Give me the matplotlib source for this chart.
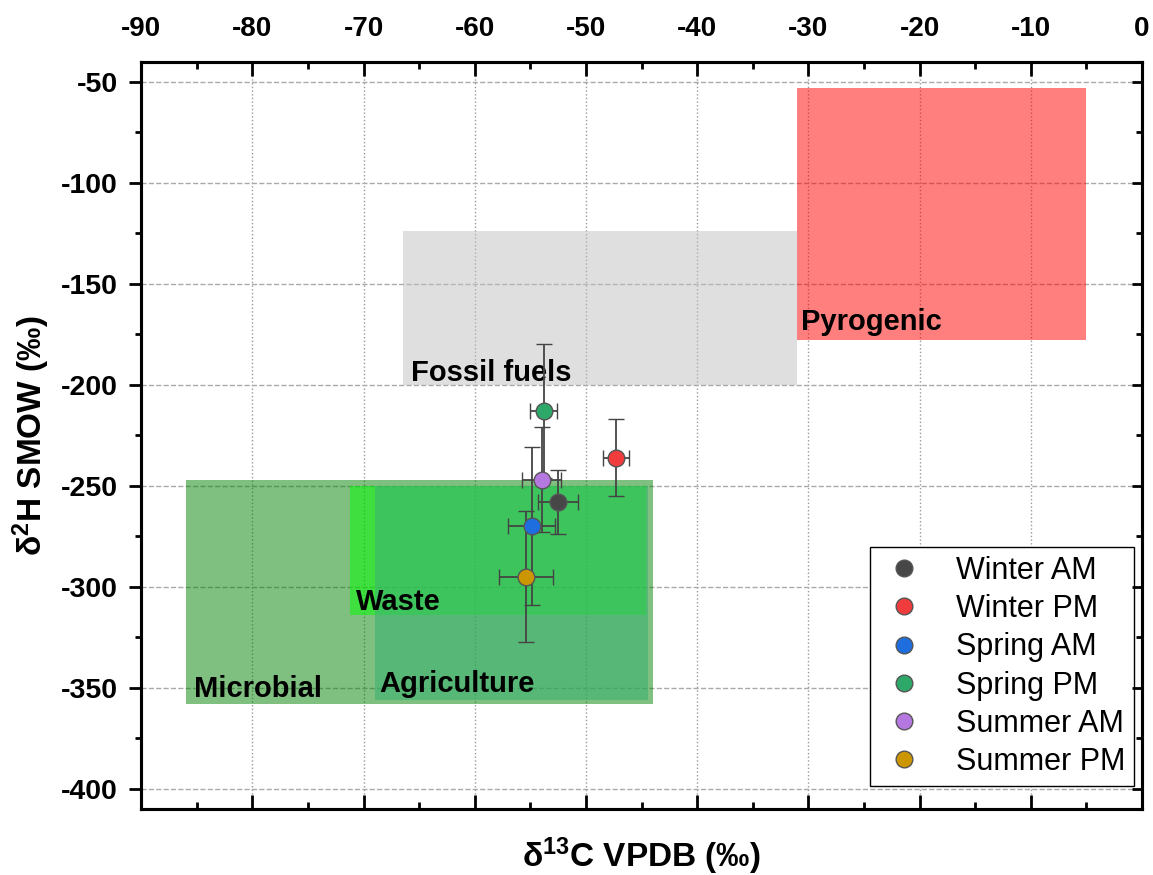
import numpy as np
import matplotlib
matplotlib.use('Agg')
import matplotlib.pyplot as plt
from matplotlib.ticker import MultipleLocator
from matplotlib.lines import Line2D

# Fonts: Arial-metric family, with a fallback for special signs.
plt.rcParams['font.family'] = ['Liberation Sans', 'DejaVu Sans']
plt.rcParams['mathtext.fontset'] = 'custom'
plt.rcParams['mathtext.rm'] = 'Liberation Sans'
plt.rcParams['mathtext.bf'] = 'Liberation Sans:bold'
plt.rcParams['mathtext.default'] = 'bf'
plt.rcParams['axes.unicode_minus'] = False

######
# DATA
######
# Sample means and errors per season / time of day.
seasons = ['Winter AM', 'Winter PM', 'Spring AM', 'Spring PM', 'Summer AM', 'Summer PM']
d13c = [-52.5, -47.3, -54.9, -53.8, -54.0, -55.4]
d2h = [-258, -236, -270, -213, -247, -295]
d13c_err = [1.8, 1.2, 2.1, 1.2, 1.75, 2.4]
d2h_err = [16, 19, 39, 33, 26, 32.5]
season_colors = ['#474747', '#F03C3C', '#1E6EE0', '#2EA868', '#B478E0', '#CC9600']

# Source signature boxes (d13C range, d2H range).
source_names = ['Microbial', 'Waste', 'Agriculture', 'Fossil fuels', 'Pyrogenic']
source_c_min = [-86, -71.2, -69, -66.5, -31]
source_c_max = [-44, -44.6, -44.4, -31, -5]
source_h_min = [-358, -314, -356, -200, -178]
source_h_max = [-247, -250, -250, -124, -53]
source_colors = ['#008000', '#00FF00', '#3CB371', '#C0C0C0', '#FF0000']
source_alpha = [0.5, 0.5, 0.6, 0.5, 0.5]
# Label anchor (left, baseline) for each box.
label_c = [-85.3, -70.7, -68.6, -65.7, -30.7]
label_h = [-354.5, -311.5, -352, -198, -173]

######
# PLOT
######
fig = plt.figure(figsize=(11.53, 8.75), dpi=100)
ax = fig.add_axes([0.1225, 0.0755, 0.868, 0.854])

for i in range(len(source_names)):
    ax.fill_between([source_c_min[i], source_c_max[i]], source_h_min[i], source_h_max[i],
                    color=source_colors[i], alpha=source_alpha[i], linewidth=0, zorder=1)
    ax.text(label_c[i], label_h[i], source_names[i], fontsize=21, fontweight='bold',
            ha='left', va='baseline', zorder=3)

handles = []
for i in range(len(seasons)):
    ax.errorbar(d13c[i], d2h[i], xerr=d13c_err[i], yerr=d2h_err[i],
                fmt='o', ms=12, mfc=season_colors[i], mec='#555555', mew=1,
                ecolor='#444444', elinewidth=1.3, capsize=5.5, capthick=1.3,
                zorder=4)
    handles.append(Line2D([], [], linestyle='none', marker='o', ms=12,
                          mfc=season_colors[i], mec='#555555', mew=1, label=seasons[i]))

ax.set_xlim(-90, 0)
ax.set_ylim(-410, -40)
ax.xaxis.set_major_locator(MultipleLocator(10))
ax.xaxis.set_minor_locator(MultipleLocator(5))
ax.yaxis.set_major_locator(MultipleLocator(50))
ax.yaxis.set_minor_locator(MultipleLocator(25))

# Grid: dotted verticals, dashed horizontals.
ax.set_axisbelow(True)
ax.grid(axis='x', which='major', linestyle=':', color='#999999', linewidth=1)
ax.grid(axis='y', which='major', linestyle='--', color='#aaaaaa', linewidth=1)

# X ticks inward on both sides, labels on top only.
ax.tick_params(axis='x', which='both', top=True, bottom=True, labeltop=True,
               labelbottom=False, direction='in')
ax.tick_params(axis='x', which='major', length=10, width=2, pad=14, labelsize=20)
ax.tick_params(axis='x', which='minor', length=5, width=2)
# Y ticks outward on the left.
ax.tick_params(axis='y', which='major', length=9, width=2, pad=8, labelsize=20.5)
ax.tick_params(axis='y', which='minor', length=4, width=2)
for lab in ax.get_xticklabels() + ax.get_yticklabels():
    lab.set_fontweight('bold')

for s in ax.spines.values():
    s.set_linewidth(2.2)

# Right side ticks pointing in.
ax2 = ax.twinx()
ax2.set_ylim(ax.get_ylim())
ax2.yaxis.set_major_locator(MultipleLocator(50))
ax2.yaxis.set_minor_locator(MultipleLocator(25))
ax2.tick_params(axis='y', which='both', direction='in', labelright=False, width=2)
ax2.tick_params(axis='y', which='major', length=7)
ax2.tick_params(axis='y', which='minor', length=4)
for s in ax2.spines.values():
    s.set_linewidth(2.2)

ax.set_xlabel('δ$^{13}$C VPDB (‰)', fontsize=24, fontweight='bold', labelpad=19)
ax.set_ylabel('δ$^{2}$H SMOW (‰)', fontsize=24, fontweight='bold', labelpad=6)

leg = ax.legend(handles=handles, loc='lower right', bbox_to_anchor=(1, 0.02),
                fontsize=22, frameon=True, fancybox=False, edgecolor='black',
                framealpha=1, handletextpad=0.9, borderpad=0.3, labelspacing=0.27,
                borderaxespad=0.25, handlelength=1.6)
leg.get_frame().set_linewidth(1)
leg.set_zorder(10)

fig.savefig('out.png', dpi=100)
